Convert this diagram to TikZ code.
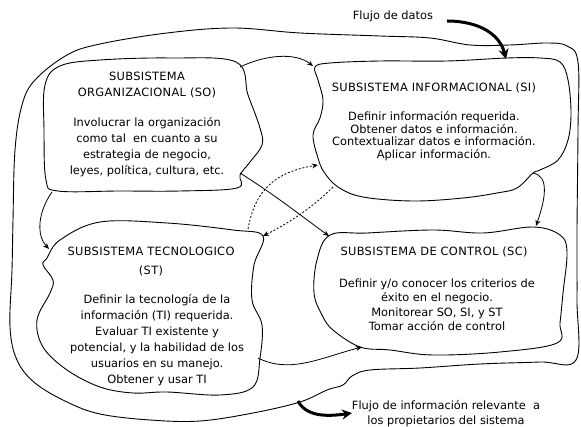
\documentclass[tikz,border=0pt]{standalone}
\usepackage{fontspec}
\setmainfont{DejaVu Sans}
\usetikzlibrary{arrows.meta}
\begin{document}
\begin{tikzpicture}[x=1pt,y=-1pt,
  blob/.style={draw, line width=0.9pt, line join=round},
  conn/.style={draw, line width=0.8pt, -{Stealth[length=6pt,width=5pt]}},
  dotconn/.style={conn, dash pattern=on 2pt off 1.8pt},
  fat/.style={draw, line width=3pt, -{Stealth[length=10pt,width=10pt]}},
  txt/.style={font=\fontsize{11.4}{16}\selectfont, align=center, inner sep=0pt},
  ttl/.style={txt, font=\fontsize{11.4}{16}\selectfont\addfontfeature{LetterSpace=3}},
]
\useasboundingbox (0,0) rectangle (581,427);
\fill[white] (0,0) rectangle (581,427);

% outer boundary
\draw[blob] plot[smooth cycle, tension=0.6] coordinates {(13,220) (15,150) (22,105) (35,80) (67,55) (100,44) (167,33) (233,28) (300,33) (380,36) (430,38) (470,45) (510,45) (547,43) (567,46) (578,62) (578,130) (577,230) (577,300) (576,360) (540,362) (480,364) (420,368) (370,370) (352,376) (343,385) (327,390) (300,402) (253,413) (200,421) (150,420) (100,414) (67,402) (35,383) (17,360) (10,327) (12,270)};

% SO blob
\draw[blob] plot[smooth cycle, tension=0.6] coordinates {(45,85) (60,66) (100,60) (170,58) (236,62) (248,95) (260,128) (262,145) (250,162) (240,175) (237,188) (180,191) (120,191) (58,191) (46,180) (44,130)};
% SI blob
\draw[blob] plot[smooth cycle, tension=0.6] coordinates {(315,67) (330,63) (380,61) (447,61) (507,58) (540,58) (560,62) (568,80) (571,113) (568,140) (558,160) (540,170) (533,173) (517,188) (497,193) (463,198) (413,201) (363,197) (338,187) (324,172) (318,158) (313,135) (320,118) (323,100) (318,80)};
% SC blob
\draw[blob] plot[smooth cycle, tension=0.6] coordinates {(330,235) (367,233) (433,230) (483,233) (533,227) (560,235) (567,252) (563,293) (560,323) (557,343) (500,352) (433,355) (390,350) (360,347) (333,330) (322,315) (314,293) (317,260)};
% ST blob
\draw[blob] plot[smooth cycle, tension=0.6] coordinates {(47,258) (60,240) (100,222) (167,223) (233,230) (263,236) (254,265) (252,300) (262,325) (260,358) (253,387) (220,395) (167,392) (133,393) (100,387) (67,370) (43,347) (37,320) (50,293) (53,280) (43,265)};

% texts
\node[ttl] (sotitle) at (147,85) {SUBSISTEMA\\ORGANIZACIONAL (SO)};
\node[txt] (so) at (147,147) {Involucrar la organización\\como tal\ \ en cuanto a su\\estrategia de negocio,\\leyes, política, cultura, etc.};
\node[ttl] (sititle) at (434,88) {SUBSISTEMA INFORMACIONAL (SI)};
\node[txt, font=\fontsize{11.4}{12.5}\selectfont] (si) at (434,136) {Definir información requerida.\\Obtener datos e información.\\Contextualizar datos e información.\\Aplicar información.};
\node[ttl, font=\fontsize{11.4}{19}\selectfont\addfontfeature{LetterSpace=3}] (sttitle) at (151,262) {SUBSISTEMA TECNOLOGICO\\(ST)};
\node[txt] (st) at (157,340) {Definir la tecnología de la\\información (TI) requerida.\\Evaluar TI existente y\\potencial, y la habilidad de los\\usuarios en su manejo.\\Obtener y usar TI};
\node[ttl] (sctitle) at (434,252) {SUBSISTEMA DE CONTROL (SC)};
\node[txt, font=\fontsize{11.4}{14.5}\selectfont] (sc) at (437,305) {Definir y/o conocer los criterios de\\éxito en el negocio.\\Monitorear SO, SI, y ST\\Tomar acción de control};
\node[txt] (fdatos) at (393,16) {Flujo de datos};
\node[txt, font=\fontsize{11.4}{15}\selectfont] (finfo) at (446,414) {Flujo de información relevante\ \ a\\los propietarios del sistema};

% connector end points
\coordinate (soA) at (240,67);
\coordinate (siA) at (313,66);
\coordinate (soB) at (52,192);
\coordinate (stA) at (49,249);
\coordinate (soC) at (240,173);
\coordinate (scA) at (329,236);
\coordinate (stB) at (248,229);
\coordinate (siB) at (318,165);
\coordinate (siC) at (333,187);
\coordinate (stC) at (263,236);
\coordinate (siD) at (533,173);
\coordinate (scB) at (536,226);
\coordinate (stD) at (258,358);
\coordinate (scC) at (362,347);
\coordinate (fdA) at (447,21);
\coordinate (fdB) at (506,59);
\coordinate (fiA) at (298,401);
\coordinate (fiB) at (352,413);

% connectors
\draw[conn] (soA) .. controls (265,55) and (295,52) .. (siA);
\draw[conn] (soB) .. controls (38,212) and (36,235) .. (stA);
\draw[conn] (soC) .. controls (275,195) and (300,215) .. (scA);
\draw[dotconn] (stB) .. controls (255,190) and (275,172) .. (siB);
\draw[dotconn] (siC) .. controls (310,210) and (285,225) .. (stC);
\draw[conn] (siD) .. controls (550,176) and (545,200) .. (scB);
\draw[conn] (stD) .. controls (290,374) and (320,358) .. (scC);
\draw[fat] (fdA) .. controls (480,21) and (500,35) .. (fdB);
\draw[fat] (fiA) .. controls (306,416) and (325,417) .. (fiB);
\end{tikzpicture}
\end{document}
